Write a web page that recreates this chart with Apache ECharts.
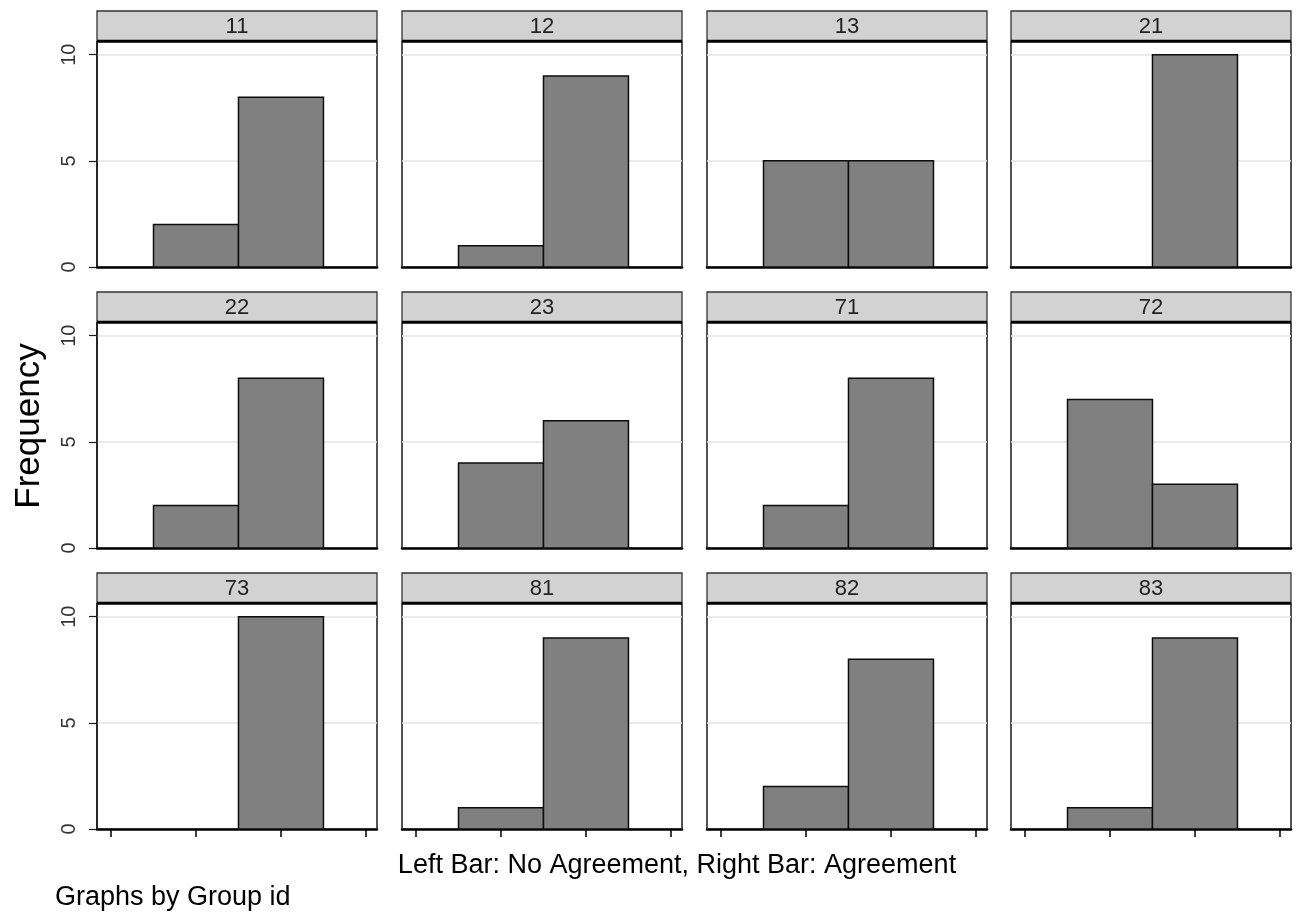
<!DOCTYPE html>
<html>
<head>
<meta charset="utf-8">
<title>Frequency by Group id</title>
<script src="https://cdn.jsdelivr.net/npm/echarts@6/dist/echarts.min.js"></script>
<style>
  html, body { margin: 0; padding: 0; background: #fff; }
  #chart { width: 1296px; height: 916px; }
</style>
</head>
<body>
<div id="chart"></div>
<script>
// Group ids, one small panel per group
const groups = ['11', '12', '13', '21', '22', '23', '71', '72', '73', '81', '82', '83'];
// Left bar: No Agreement counts
const noAgreement = [2, 1, 5, 0, 2, 4, 2, 7, 0, 1, 2, 1];
// Right bar: Agreement counts
const agreement = [8, 9, 5, 10, 8, 6, 8, 3, 10, 9, 8, 9];
// Y tick labels
const yTicks = [0, 5, 10];
// X tick positions (bar centres at 0 and 1)
const xTicks = [-1, 0, 1, 2];

const FONT = "'Liberation Sans', Arial, sans-serif";
const COLS = 4;
const colLeft = [97, 402, 707, 1011];
const rowTop = [11, 292, 573];
const panelW = 280;
const headerH = 30;
const plotH = 225;

const grids = [], xAxes = [], yAxes = [], series = [], graphics = [];

groups.forEach((g, i) => {
  const c = i % COLS, r = Math.floor(i / COLS);
  const left = colLeft[c], hTop = rowTop[r];
  const top = hTop + headerH + 1;
  const bottomRow = r === 2, firstCol = c === 0;

  grids.push({
    left: left, top: top, width: panelW, height: plotH,
    show: true, borderColor: '#1a1a1a', borderWidth: 1.5, backgroundColor: '#fff'
  });

  xAxes.push({
    gridIndex: i, type: 'value', min: -1.165, max: 2.13,
    axisLine: { show: true, onZero: false, lineStyle: { color: '#000', width: 2.5 } },
    axisTick: { show: bottomRow, customValues: xTicks, length: 8, lineStyle: { color: '#000', width: 1.5 } },
    axisLabel: { show: false },
    splitLine: { show: false }
  });

  yAxes.push({
    gridIndex: i, type: 'value', min: 0, max: 10.6, interval: 5,
    axisLine: { show: firstCol, onZero: false, lineStyle: { color: '#1a1a1a', width: 1.5 } },
    axisTick: { show: firstCol, customValues: yTicks, length: 8, lineStyle: { color: '#1a1a1a', width: 1.2 } },
    axisLabel: {
      show: firstCol, customValues: yTicks, rotate: 90, margin: 18,
      fontFamily: FONT, fontSize: 20, color: '#333'
    },
    splitLine: { show: true, lineStyle: { color: '#e3e3e3', width: 1.5 } }
  });

  series.push({
    type: 'custom', xAxisIndex: i, yAxisIndex: i,
    data: [[0, noAgreement[i]], [1, agreement[i]]],
    renderItem: function (params, api) {
      const x = api.value(0), v = api.value(1);
      if (!(v > 0)) return null;
      const p1 = api.coord([x - 0.5, v]);
      const p2 = api.coord([x + 0.5, 0]);
      return {
        type: 'rect',
        shape: { x: p1[0], y: p1[1], width: p2[0] - p1[0], height: p2[1] - p1[1] },
        style: { fill: '#808080', stroke: '#0d0d0d', lineWidth: 1.5 }
      };
    },
    silent: true, z: 3
  });

  // panel header strip with the group id
  graphics.push({
    type: 'rect', z: 10,
    shape: { x: left, y: hTop, width: panelW, height: headerH },
    style: { fill: '#d2d2d2', stroke: '#333', lineWidth: 1.3 }
  });
  graphics.push({
    type: 'line', z: 11,
    shape: { x1: left, y1: hTop + headerH, x2: left + panelW, y2: hTop + headerH },
    style: { stroke: '#000', lineWidth: 2.5 }
  });
  graphics.push({
    type: 'text', z: 12,
    x: left + panelW / 2, y: hTop + headerH / 2 + 1,
    style: {
      text: g, fontFamily: FONT, fontSize: 22, fill: '#222',
      align: 'center', verticalAlign: 'middle'
    }
  });
});

graphics.push({
  type: 'text', z: 12, x: 29, y: 426, rotation: Math.PI / 2,
  style: { text: 'Frequency', fontFamily: FONT, fontSize: 35, fill: '#000', align: 'center', verticalAlign: 'middle' }
});
graphics.push({
  type: 'text', z: 12, x: 677, y: 866,
  style: { text: 'Left Bar: No Agreement, Right Bar: Agreement', fontFamily: FONT, fontSize: 27, fill: '#000', align: 'center', verticalAlign: 'middle' }
});
graphics.push({
  type: 'text', z: 12, x: 55, y: 898,
  style: { text: 'Graphs by Group id', fontFamily: FONT, fontSize: 27, fill: '#000', align: 'left', verticalAlign: 'middle' }
});

const chart = echarts.init(document.getElementById('chart'), null, { renderer: 'canvas' });
chart.setOption({
  animation: false,
  backgroundColor: '#fff',
  grid: grids,
  xAxis: xAxes,
  yAxis: yAxes,
  series: series,
  graphic: graphics
});
</script>
</body>
</html>
